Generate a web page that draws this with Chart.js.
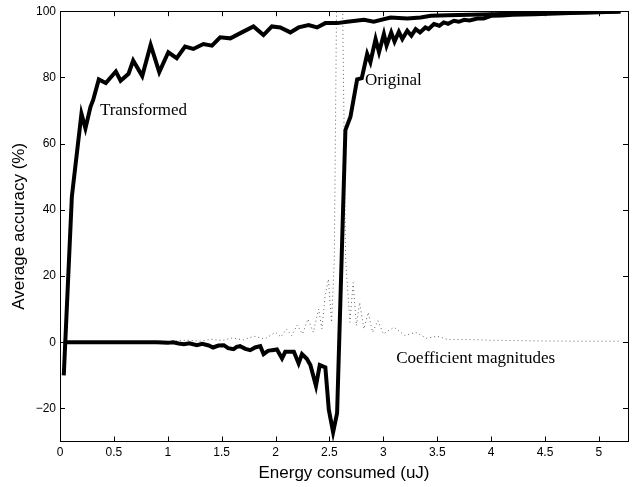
<!DOCTYPE html>
<html>
<head>
<meta charset="utf-8">
<script src="https://cdn.jsdelivr.net/npm/chart.js@4.4.1/dist/chart.umd.min.js"></script>
<style>
html,body{margin:0;padding:0;background:#fff;}
#wrap{width:634px;height:487px;}
</style>
</head>
<body>
<div id="wrap"><canvas id="c" width="634" height="487"></canvas></div>
<script>
// ---- data ----
const xTicks = [0, 0.5, 1, 1.5, 2, 2.5, 3, 3.5, 4, 4.5, 5];
const yTicks = [-20, 0, 20, 40, 60, 80, 100];

const transformedX = [0.035, 0.11, 0.199, 0.236, 0.283, 0.307, 0.36, 0.425, 0.518, 0.562, 0.636, 0.679, 0.763, 0.841, 0.921, 1.005, 1.083, 1.16, 1.237, 1.33, 1.41, 1.486, 1.58, 1.687, 1.795, 1.888, 1.966, 2.044, 2.137, 2.214, 2.307, 2.385, 2.462, 2.571, 2.664, 2.82, 2.911, 3.067, 3.222, 3.346, 3.44, 3.6, 3.8, 4.0, 4.4, 4.8, 5.2];
const transformedY = [-10, 44, 69, 64.6, 71.1, 73.1, 79.4, 78.3, 81.8, 79, 81.1, 85.1, 80.4, 89.8, 81.6, 87.6, 85.8, 89.3, 88.6, 90.1, 89.6, 92.1, 91.8, 93.6, 95.4, 92.8, 95.4, 95.1, 93.6, 95.1, 95.8, 95.1, 96.4, 96.4, 96.8, 97.4, 96.8, 98.1, 97.8, 98.1, 98.6, 98.8, 98.9, 99.1, 99.4, 99.6, 99.9];

const originalX = [0.035, 0.9, 1.0, 1.05, 1.1, 1.15, 1.2, 1.27, 1.32, 1.38, 1.42, 1.47, 1.52, 1.56, 1.61, 1.64, 1.67, 1.72, 1.765, 1.81, 1.858, 1.889, 1.93, 1.966, 2.013, 2.06, 2.09, 2.17, 2.214, 2.245, 2.29, 2.323, 2.375, 2.41, 2.462, 2.494, 2.534, 2.571, 2.648, 2.695, 2.757, 2.8, 2.85, 2.88, 2.928, 2.96, 3.005, 3.03, 3.073, 3.104, 3.144, 3.176, 3.222, 3.26, 3.3, 3.34, 3.39, 3.42, 3.47, 3.52, 3.56, 3.6, 3.655, 3.7, 3.75, 3.8, 3.873, 3.93, 4.0, 4.1, 4.2, 4.4, 4.6, 4.8, 5.0, 5.2];
const originalY = [0, 0, -0.2, 0, -0.4, -0.6, -0.3, -0.9, -0.5, -1.0, -1.6, -1.0, -0.9, -1.8, -2.1, -1.4, -1.2, -2.0, -2.4, -1.6, -1.2, -3.6, -2.6, -2.4, -2.2, -4.9, -2.9, -2.9, -6.4, -3.6, -5.0, -6.9, -13.2, -6.9, -7.6, -20.4, -27.2, -21.4, 64.1, 68.1, 79.4, 79.8, 87.1, 84.6, 91.6, 87.6, 93.1, 89.6, 93.6, 90.8, 93.8, 91.6, 94.1, 92.6, 94.6, 93.6, 95.1, 94.6, 96.1, 95.6, 96.6, 96.2, 97.1, 96.8, 97.4, 97.2, 97.8, 97.8, 98.6, 98.7, 98.9, 99.1, 99.3, 99.5, 99.7, 99.9];

const coefX = [0.035, 0.5, 1.0, 1.2, 1.3, 1.4, 1.5, 1.6, 1.7, 1.8, 1.9, 2.0, 2.05, 2.1, 2.15, 2.2, 2.25, 2.3, 2.35, 2.4, 2.43, 2.46, 2.49, 2.52, 2.545, 2.59, 2.65, 2.69, 2.72, 2.75, 2.78, 2.82, 2.86, 2.9, 2.95, 3.0, 3.1, 3.2, 3.3, 3.4, 3.5, 3.6, 3.8, 4.0, 4.2, 4.4, 4.6, 4.8, 5.0, 5.2];
const coefY = [0, 0.1, 0.3, 0.6, 0.3, 0.9, 0.5, 1.3, 0.7, 1.8, 1.0, 3.0, 1.6, 4.0, 2.0, 5.2, 2.5, 7.0, 3.0, 10, 4, 14, 19, 6, 25, 190, 25, 6, 18, 5, 12, 4, 9, 3, 6.5, 2.5, 4.5, 2, 3, 1.2, 1.8, 0.8, 0.8, 0.6, 0.5, 0.4, 0.35, 0.3, 0.3, 0.3];

const labels = [
  {text: 'Transformed', x: 0.37, y: 70},
  {text: 'Original', x: 2.83, y: 79},
  {text: 'Coefficient magnitudes', x: 3.12, y: -4.8}
];

const pts = (xs, ys) => xs.map((x, i) => ({x: x, y: ys[i]}));
const fmt = v => String(v).replace('-', '\u2212');

const frame = {
  id: 'frame',
  afterDatasetsDraw(chart) {
    const {ctx, chartArea: a, scales: {x, y}} = chart;
    ctx.save();
    ctx.fillStyle = '#000';
    ctx.font = '17px "Liberation Serif", "Times New Roman", serif';
    ctx.textBaseline = 'middle';
    ctx.textAlign = 'left';
    labels.forEach(l => ctx.fillText(l.text, x.getPixelForValue(l.x), y.getPixelForValue(l.y)));
    ctx.strokeStyle = '#000';
    ctx.lineWidth = 1;
    ctx.strokeRect(Math.round(a.left) + 0.5, Math.round(a.top) + 0.5, Math.round(a.right - a.left), Math.round(a.bottom - a.top));
    const L = 5;
    ctx.beginPath();
    xTicks.forEach(v => {
      const px = Math.round(x.getPixelForValue(v)) + 0.5;
      ctx.moveTo(px, a.bottom); ctx.lineTo(px, a.bottom - L);
      ctx.moveTo(px, a.top); ctx.lineTo(px, a.top + L);
    });
    yTicks.forEach(v => {
      const py = Math.round(y.getPixelForValue(v)) + 0.5;
      ctx.moveTo(a.left, py); ctx.lineTo(a.left + L, py);
      ctx.moveTo(a.right, py); ctx.lineTo(a.right - L, py);
    });
    ctx.stroke();
    ctx.restore();
  }
};

new Chart(document.getElementById('c'), {
  type: 'line',
  data: {
    datasets: [
      {label: 'Coefficient magnitudes', data: pts(coefX, coefY), borderColor: '#666', borderWidth: 1, borderDash: [1, 3], pointRadius: 0, tension: 0, order: 3, clip: 0},
      {label: 'Original', data: pts(originalX, originalY), borderColor: '#000', borderWidth: 4, pointRadius: 0, tension: 0, order: 1},
      {label: 'Transformed', data: pts(transformedX, transformedY), borderColor: '#000', borderWidth: 4, pointRadius: 0, tension: 0, order: 2}
    ]
  },
  options: {
    responsive: false,
    animation: false,
    layout: {padding: {top: 9, right: 6, left: 0, bottom: 0}},
    plugins: {legend: {display: false}, tooltip: {enabled: false}},
    scales: {
      x: {
        type: 'linear', min: 0, max: 5.27,
        afterBuildTicks: s => { s.ticks = xTicks.map(v => ({value: v})); },
        afterFit: s => { s.height = 45.5; },
        ticks: {font: {family: 'Liberation Sans', size: 12}, color: '#000', padding: 4, maxRotation: 0, autoSkip: false, callback: v => fmt(v)},
        grid: {display: false, drawTicks: false},
        border: {display: false},
        title: {display: true, text: 'Energy consumed (uJ)', font: {family: 'Liberation Sans', size: 17}, color: '#000', padding: {top: 0, bottom: 3}}
      },
      y: {
        type: 'linear', min: -30, max: 100,
        afterBuildTicks: s => { s.ticks = yTicks.map(v => ({value: v})); },
        afterFit: s => { s.width = 60; },
        ticks: {font: {family: 'Liberation Sans', size: 12}, color: '#000', padding: 4, autoSkip: false, callback: v => fmt(v)},
        grid: {display: false, drawTicks: false},
        border: {display: false},
        title: {display: true, text: 'Average accuracy (%)', font: {family: 'Liberation Sans', size: 17}, color: '#000', padding: {top: 9, bottom: 0}}
      }
    }
  },
  plugins: [frame]
});
</script>
</body>
</html>
